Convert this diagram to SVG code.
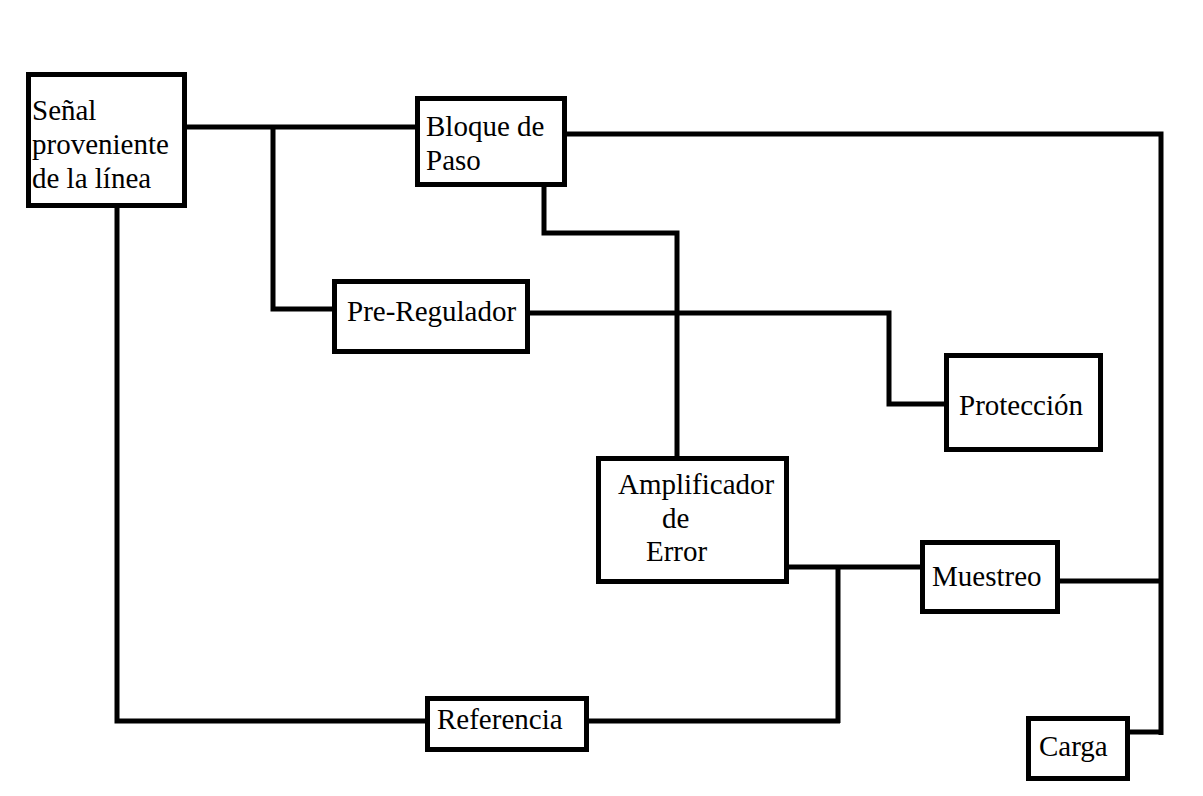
<svg xmlns="http://www.w3.org/2000/svg" width="1203" height="796" viewBox="0 0 1203 796">
<style>
.box{fill:#fff;stroke:#000;stroke-width:5}
.wire{fill:none;stroke:#000;stroke-width:5;stroke-linejoin:miter;stroke-linecap:butt}
text{font-family:"Liberation Serif","Times New Roman",serif;font-size:29px;fill:#000}
</style>
<rect width="1203" height="796" fill="#fff"/>
<g id="connectors">
<polyline class="wire" points="186,127 418,127"/>
<polyline class="wire" points="273,127 273,309 335,309"/>
<polyline class="wire" points="565,134 1161,134 1161,735"/>
<polyline class="wire" points="544,185 544,233 677,233 677,458"/>
<polyline class="wire" points="527,313 889,313 889,404 946,404"/>
<polyline class="wire" points="787,567 922,567"/>
<polyline class="wire" points="838,567 838,723"/>
<polyline class="wire" points="1058,581 1163,581"/>
<polyline class="wire" points="1128,732 1161,732"/>
<polyline class="wire" points="117,207 117,721 427,721"/>
<polyline class="wire" points="587,721 840,721"/>
</g>
<g id="senal">
<rect class="box" x="28.5" y="74.5" width="156" height="131"/>
<text x="32" y="120">Señal</text>
<text x="32" y="154">proveniente</text>
<text x="32" y="188">de la línea</text>
</g>
<g id="bloque">
<rect class="box" x="417.5" y="98.5" width="147" height="86"/>
<text x="426" y="136">Bloque de</text>
<text x="426" y="170">Paso</text>
</g>
<g id="preregulador">
<rect class="box" x="334.5" y="281.5" width="193" height="70"/>
<text x="347" y="321">Pre-Regulador</text>
</g>
<g id="proteccion">
<rect class="box" x="946.5" y="355.5" width="154" height="94"/>
<text x="959" y="415">Protección</text>
</g>
<g id="amplificador">
<rect class="box" x="598.5" y="458.5" width="188" height="123"/>
<text x="618" y="494">Amplificador</text>
<text x="662" y="528">de</text>
<text x="646" y="561">Error</text>
</g>
<g id="muestreo">
<rect class="box" x="922.5" y="542.5" width="135" height="69"/>
<text x="932" y="586">Muestreo</text>
</g>
<g id="referencia">
<rect class="box" x="427.5" y="698.5" width="159" height="51"/>
<text x="437" y="729">Referencia</text>
</g>
<g id="carga">
<rect class="box" x="1028.5" y="718.5" width="99" height="60"/>
<text x="1039" y="756">Carga</text>
</g>
</svg>
